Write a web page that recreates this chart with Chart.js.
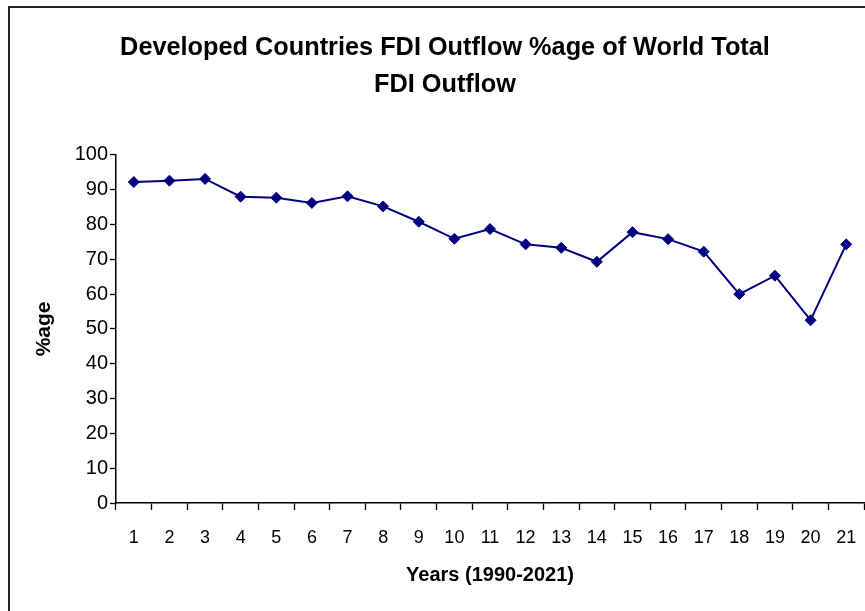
<!DOCTYPE html>
<html>
<head>
<meta charset="utf-8">
<script src="https://cdn.jsdelivr.net/npm/chart.js@4/dist/chart.umd.min.js"></script>
<style>
  html, body { margin: 0; padding: 0; background: #fff; overflow: hidden; }
  #wrap { width: 865px; height: 611px; position: relative; overflow: hidden; }
</style>
</head>
<body>
<div id="wrap"><canvas id="c" width="871" height="611"></canvas></div>
<script>
// Year index 1..21 (1990-2021)
const yearIndex = ['1','2','3','4','5','6','7','8','9','10','11','12','13','14','15','16','17','18','19','20','21'];
// Developed countries' share of world FDI outflow, %
const sharePct = [92.2, 92.6, 93.1, 88.0, 87.7, 86.2, 88.1, 85.2, 80.8, 75.9, 78.7, 74.3, 73.3, 69.3, 77.8, 75.8, 72.2, 60.0, 65.3, 52.5, 74.3];
const titleLines = ['Developed Countries FDI Outflow %age of World Total', 'FDI Outflow'];

const FONT = '"Liberation Sans", Arial, sans-serif';

// White page with a dark frame around the chart (the frame runs past the right/bottom edges)
const framePlugin = {
  id: 'frame',
  beforeDraw(chart) {
    const ctx = chart.ctx;
    ctx.save();
    ctx.fillStyle = '#fff';
    ctx.fillRect(0, 0, chart.width, chart.height);
    ctx.strokeStyle = '#222';
    ctx.lineWidth = 2;
    ctx.strokeRect(9, 7, chart.width + 20, chart.height + 20);
    ctx.restore();
  }
};

new Chart(document.getElementById('c'), {
  type: 'line',
  data: {
    labels: yearIndex,
    datasets: [{
      data: sharePct,
      borderColor: '#000080',
      backgroundColor: '#000080',
      borderWidth: 2,
      pointStyle: 'rectRot',
      pointRadius: 5.5,
      pointHoverRadius: 5.5,
      pointBorderWidth: 1,
      tension: 0,
      clip: false
    }]
  },
  options: {
    responsive: false,
    animation: false,
    events: [],
    layout: { padding: { left: 26, right: 7, top: 0, bottom: 0 } },
    plugins: {
      legend: { display: false },
      tooltip: { enabled: false },
      title: {
        display: true,
        text: titleLines,
        color: '#000',
        font: { family: FONT, size: 25.3, weight: 'bold', lineHeight: 1.48 },
        padding: { top: 29, bottom: 51 }
      }
    },
    scales: {
      x: {
        offset: true,
        grid: { display: true, offset: true, drawOnChartArea: false, drawTicks: true, tickLength: 7, tickColor: '#000', tickWidth: 1.3 },
        border: { display: true, color: '#000', width: 1.5 },
        ticks: { color: '#000', font: { family: FONT, size: 18 }, padding: 17, maxRotation: 0, autoSkip: false },
        title: { display: true, text: 'Years (1990-2021)', color: '#000', font: { family: FONT, size: 20, weight: 'bold' }, padding: { top: 0, bottom: 24 } },
        afterFit(scale) {
          scale.height = 108;
          scale.paddingLeft = 0;
          scale.paddingRight = 0;
        }
      },
      y: {
        min: 0,
        max: 100,
        grid: { display: true, drawOnChartArea: false, drawTicks: true, tickLength: 6, tickColor: '#000', tickWidth: 1.3 },
        border: { display: true, color: '#000', width: 1.5 },
        ticks: { stepSize: 10, color: '#000', font: { family: FONT, size: 20 }, padding: 2 },
        title: { display: true, text: '%age', color: '#000', font: { family: FONT, size: 21, weight: 'bold' }, padding: { top: 6, bottom: 0 } },
        afterFit(scale) { scale.width = 90; }
      }
    }
  },
  plugins: [framePlugin]
});
</script>
</body>
</html>
